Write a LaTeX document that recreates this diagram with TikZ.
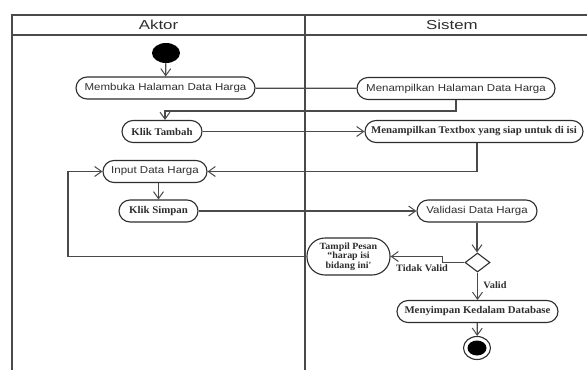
\documentclass[tikz,border=0pt]{standalone}
\usepackage{fontspec}
\setmainfont{Liberation Serif}
\newfontfamily\lanefont[FakeStretch=1.3]{Liberation Sans}
\newfontfamily\actsans[FakeStretch=1.15]{Liberation Sans}
\newfontfamily\actserif[FakeStretch=1.05]{Liberation Serif}
\usetikzlibrary{arrows.meta,shapes.geometric}

\definecolor{ink}{HTML}{2E2E2E}
\definecolor{wire}{HTML}{4A4A4A}

\tikzset{
  frame/.style={draw=wire, line width=1.3pt},
  lanetitle/.style={font=\lanefont\fontsize{13}{15}\selectfont, text=ink},
  actbase/.style={draw=ink, line width=1.1pt, fill=white, rounded corners=11pt,
    minimum height=22pt, inner sep=0pt, text=ink},
  sact/.style={actbase, font=\actsans\fontsize{10}{12}\selectfont},
  ract/.style={actbase, font=\actserif\bfseries\fontsize{10.3}{12}\selectfont},
  flow/.style={draw=wire, line width=1.2pt,
    -{Straight Barb[length=7pt,width=10pt,line width=1pt]}},
  plain/.style={draw=wire, line width=1.2pt},
  guard/.style={font=\actserif\bfseries\fontsize{9.8}{11}\selectfont, text=ink},
}

\begin{document}
\begin{tikzpicture}[x=1pt, y=-1pt]
\useasboundingbox (0,0) rectangle (587,370);

% swimlane frame
\draw[frame] (12,370) |- (587,15);
\draw[frame] (12,35) -- (587,35);
\draw[frame] (305,15) -- (305,370);
\node[lanetitle] (aktor) at (158.5,25) {Aktor};
\node[lanetitle] (sistem) at (452,25) {Sistem};

% initial node
\node[ellipse, fill=black, minimum width=28pt, minimum height=20pt, inner sep=0pt] (start) at (166,53) {};

% activities
\node[sact, minimum width=179pt] (buka) at (165.5,88) {Membuka Halaman Data Harga};
\node[sact, minimum width=198pt] (tampilhal) at (456,88.5) {Menampilkan Halaman Data Harga};
\node[ract, minimum width=80pt] (tambah) at (162,131.5) {Klik Tambah};
\node[ract, minimum width=218pt] (textbox) at (474,131.5) {Menampilkan Textbox yang siap untuk di isi};
\node[sact, minimum width=104pt] (input) at (155,171.5) {Input Data Harga};
\node[ract, minimum width=79pt] (simpan) at (158.5,211) {Klik Simpan};
\node[sact, minimum width=120pt] (validasi) at (477,211) {Validasi Data Harga};
\node[diamond, draw=ink, line width=1.1pt, fill=white, minimum width=25pt, minimum height=19pt, inner sep=0pt] (cek) at (477.5,262.5) {};
\node[actbase, minimum width=83pt, minimum height=37pt, rounded corners=18pt, align=center,
  font=\actserif\bfseries\fontsize{9.5}{9.6}\selectfont] (pesan) at (348.5,256.5) {Tampil Pesan\\“harap isi\\bidang ini'};
\node[ract, minimum width=161pt] (db) at (477.5,311.5) {Menyimpan Kedalam Database};

% final node
\node[ellipse, draw=ink, line width=1.1pt, fill=white, minimum width=27pt, minimum height=23pt, inner sep=0pt] (stop) at (477,348) {};
\node[ellipse, fill=black, minimum width=19pt, minimum height=15pt, inner sep=0pt] (stopdot) at (stop.center) {};

% control flows
\draw[flow] (start) -- (buka);
\draw[plain] (buka) -- (tampilhal);
\draw[flow] (tampilhal.south) -- ++(0,11) -| ([xshift=3pt]tambah.north);
\draw[flow] (tambah) -- (textbox);
\draw[flow] ([xshift=3pt]textbox.south) |- (input.east);
\draw[flow] (simpan.north |- input.south) -- (simpan.north);
\draw[flow] (simpan) -- (validasi);
\draw[flow] (validasi.south) -- (validasi.south |- cek.north);
\draw[flow] (cek.west) -- ++(-22,0) |- (pesan.east);
\node[guard] (tidak) at (422,268) {Tidak Valid};
\draw[flow] (cek.south) -- (cek.south |- db.north);
\node[guard] (valid) at (495,285) {Valid};
\draw[flow] (db) -- (stop);
\coordinate (balik) at (68,256.5);
\draw[flow] (pesan.west) -- (balik) |- (input.west);
\end{tikzpicture}
\end{document}
